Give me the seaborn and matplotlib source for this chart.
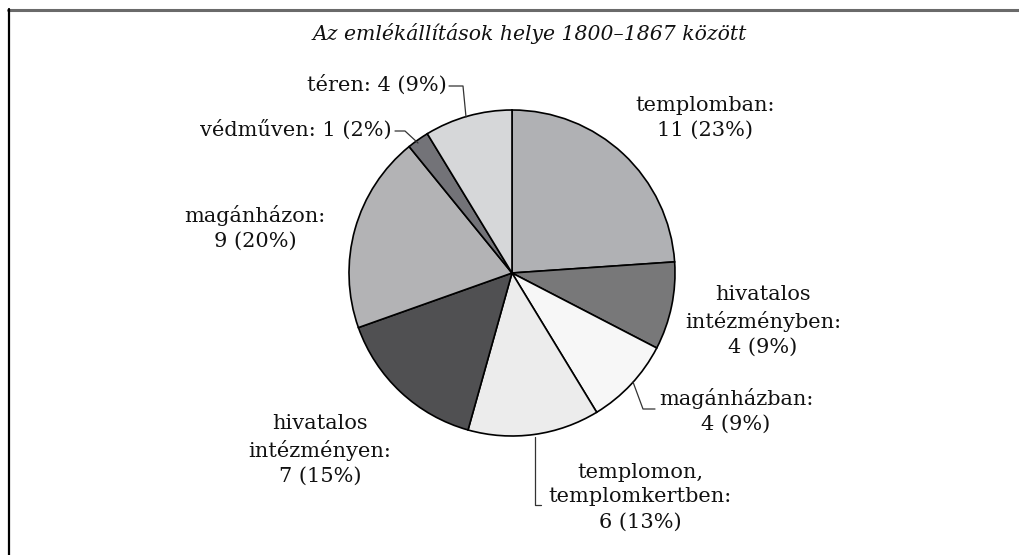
import matplotlib
matplotlib.use("Agg")
import matplotlib.pyplot as plt
import seaborn as sns

# Adatok
labels = ["templomban:\n11 (23%)",
          "hivatalos\nintézményben:\n4 (9%)",
          "magánházban:\n4 (9%)",
          "templomon,\ntemplomkertben:\n6 (13%)",
          "hivatalos\nintézményen:\n7 (15%)",
          "magánházon:\n9 (20%)",
          "védműven: 1 (2%)",
          "téren: 4 (9%)"]
values = [11, 4, 4, 6, 7, 9, 1, 4]
colors = ["#b0b1b4", "#787879", "#f7f7f7", "#ececec",
          "#505052", "#b3b3b5", "#737378", "#d6d7d9"]
title = "Az emlékállítások helye 1800–1867 között"

sns.set_theme(style="white")
plt.rcParams["font.family"] = ["DejaVu Serif"]

W, H = 1019, 555
CX, CY, R = 512, 273, 163


def px(x, y):
    """pixel -> adat koordináta (kör középpont = 0,0, sugár = 1)"""
    return (x - CX) / R, (CY - y) / R


fig = plt.figure(figsize=(W / 100, H / 100), dpi=100)
ax = fig.add_axes([0, 0, 1, 1])

ax.pie(values, colors=colors, startangle=90, counterclock=False, radius=1,
       wedgeprops=dict(edgecolor="black", linewidth=1.2))

ax.set_xlim(-CX / R, (W - CX) / R)
ax.set_ylim((CY - H) / R, CY / R)
ax.set_aspect("equal")
ax.axis("off")

# keret
fig.add_artist(plt.Line2D([8 / W, 1], [1 - 9.5 / H, 1 - 9.5 / H],
                          color="#6a6a6a", lw=2.2, transform=fig.transFigure))
fig.add_artist(plt.Line2D([8.5 / W, 8.5 / W], [0, 1 - 9 / H],
                          color="black", lw=1.6, transform=fig.transFigure))

fs = 15
ax.text(*px(530, 33), title, ha="center", va="center", fontsize=14.7,
        style="italic", color="#111111")

# címkék: (x, y, igazítás)
label_pos = [(705, 118, "center"),
             (763, 321, "center"),
             (736, 411, "center"),
             (640, 497, "center"),
             (320, 450, "center"),
             (255, 228, "center"),
             (392, 130, "right"),
             (447, 85, "right")]
for lab, (x, y, ha) in zip(labels, label_pos):
    ax.text(*px(x, y), lab, ha=ha, va="center", fontsize=fs,
            linespacing=1.4, color="#111111")

# vezetővonalak
leaders = [
    [(449, 86), (463, 86), (466, 117)],
    [(395, 131), (405, 131), (418, 143)],
    [(633, 382), (643, 409), (655, 409)],
    [(535, 437), (535, 505), (541, 505)],
]
for pts in leaders:
    xs, ys = zip(*[px(a, b) for a, b in pts])
    ax.plot(xs, ys, color="#333333", lw=0.9)

fig.savefig("out.png", dpi=100)
